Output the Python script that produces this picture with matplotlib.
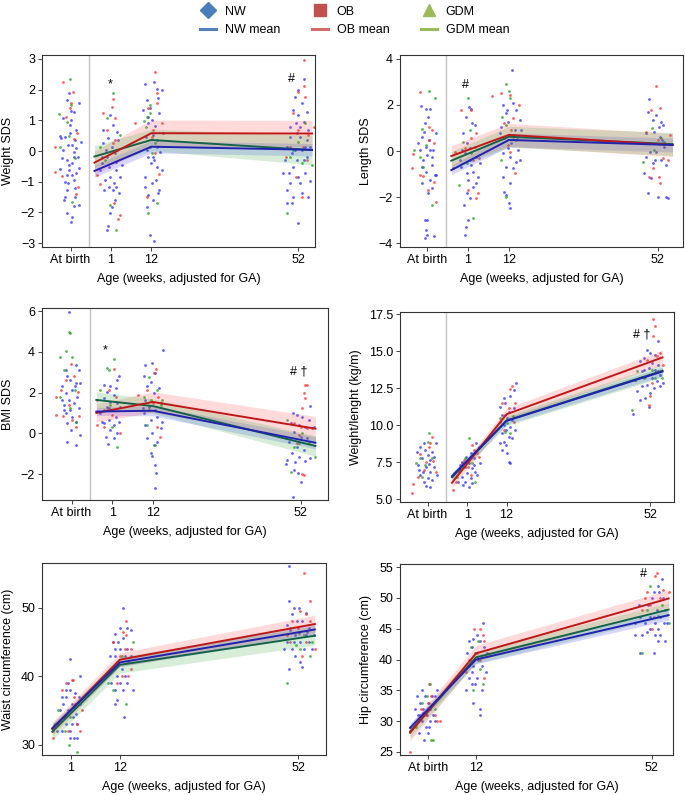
import numpy as np
import matplotlib
matplotlib.use("Agg")
import matplotlib.pyplot as plt
from matplotlib.lines import Line2D

plt.rcParams['font.family'] = ['Liberation Sans', 'DejaVu Sans']

# groups and colours
groups = ["NW", "OB", "GDM"]
dot_colors = ["#2a2aff", "#ff2a2a", "#1f9f1f"]
band_colors = ["#3a3aff", "#ff4a4a", "#3aa83a"]
fit_colors = ["#2222b0", "#c01818", "#15644a"]

# ---------------- Weight SDS ----------------
wt_nw = [(-10.5,1.88),(-10,-2.3),(-11,-2.03),(-9.6,-2.14),(-7.7,-1.76),(-8.8,-1.49),(-11,-1.27),(-11.5,-1.0),(-8.4,-0.73),
         (-10.5,-0.46),(-12.3,-0.24),(-9.2,-0.02),(-11.5,0.47),(-8.4,0.68),(-10.2,0.85),(-12,1.07),(-7.6,1.55),(-9.2,1.28),
         (-11,1.66),(-9.6,0.2),(-8.8,0.36),(-10.6,-1.05),(-8.8,-1.22),(-11.5,-1.49),(-9.6,-0.78),(-7.8,-0.57),(-11,-0.29),
         (-9.2,-0.18),(-12.5,0.41),(-7.2,0.3),(-10.2,0.58),(-12,0.03),(-8.4,0.09),(-10.5,-0.62),(-9.2,-0.95),(-11,-0.78),
         (-13,0.5),(-9.8,1.0),(-10.8,0.2),(-9.5,-0.4),(-12.8,-0.6),(-8,-0.2),(-10,1.3),(-11.8,-1.6),(-9,-1.8),
         (0.1,-2.45),(0.0,-2.58),(0.7,-2.03),(2.1,-1.6),(1.5,-1.27),(2.5,-1.16),(-0.6,-0.95),(0.7,-0.84),(2.5,-0.62),
         (-1.5,-0.4),(-0.2,-0.18),(2.1,-0.08),(1.2,0.14),(0.3,0.41),(-1.1,0.68),(1.6,0.85),(0.7,1.17),(3.0,0.36),
         (-2.0,-0.62),(3.5,-0.84),(-0.9,-1.27),(1.8,-1.05),(3.3,-1.38),(0.4,-0.51),(2.4,-0.35),(-0.4,0.03),(2.7,0.63),
         (1.3,-1.82),(-1.1,0.25),(0.5,-1.16),(-1.5,-0.18),(3.9,-0.46),
         (10.3,2.2),(12.7,2.24),(13.5,2.01),(14.8,2.0),(10.7,1.66),(14.2,1.23),(12.1,1.0),(11.2,0.9),(13.0,0.8),
         (10.5,0.47),(13.6,0.36),(11.6,0.14),(14.4,-0.02),(11.2,-0.18),(12.7,-0.29),(13.5,-0.51),(10.3,-0.84),
         (12.1,-1.05),(14.2,-1.27),(11.2,-1.43),(12.5,-1.6),(11.6,-2.74),(12.8,-2.92),(10.7,-1.82),(13.3,-0.95),
         (14.8,-0.62),(10.7,0.03),(12.4,0.52),(11.5,1.39),(13.9,1.72),(9.8,1.34),(11.8,-0.4),(13.9,-1.38),(10.3,-1.16),
         (12.5,-0.18),(15.1,0.58),(11.2,1.12),(13.5,0.14),
         (51.6,0.58),(52.5,0.79),(53.5,0.96),(52.1,1.17),(50.7,1.34),(54.4,1.28),(53.0,1.55),(51.2,1.77),(53.6,2.35),
         (52.1,1.99),(49.8,0.47),(48.9,0.14),(50.3,-0.08),(51.6,-0.29),(53.0,0.03),(54.4,0.36),(54.8,0.68),(50.7,-0.51),
         (49.4,-0.73),(52.1,-0.84),(53.9,-0.73),(52.5,-1.05),(49.8,-1.05),(50.7,-1.49),(54.8,-1.49),(48.9,-1.7),
         (50.3,-1.7),(52.1,-2.34),(48.5,-0.29),(53.5,-0.29),(51.2,0.03),(53.9,0.14),(48.0,-0.73),(55.3,-0.98),
         (52.5,0.47),(51.5,0.9),(49.8,0.79),(53.0,-1.38),(49.1,-1.27),(55.3,0.14),(54.4,-0.18)]
wt_ob = [(-14.3,-0.67),(-14.3,0.12),(-12.2,2.24),(-9.4,1.93),(-9.9,1.55),(-10.3,1.4),(-8.3,0.58),(-7.9,-1.16),(-8.5,-1.4),
         (-9.2,0.4),(-11.2,1.1),(-12.3,-0.8),
         (1.6,1.70),(1.2,1.45),(2.1,1.07),(-0.2,0.68),(2.1,0.36),(-1.1,1.23),(3.5,-2.09),(3.0,-2.23),(1.8,-1.7),
         (-2.9,-0.78),(-2.0,-1.09),(1.5,0.25),(2.7,0.03),
         (13.0,2.57),(13.5,1.88),(14.8,0.92),(7.5,0.92),(11.2,1.39),(12.1,0.47),(13.0,-0.08),(14.2,-0.75),(10.7,-1.49),
         (12.5,0.68),(13.6,1.55),
         (50.7,1.23),(52.1,1.93),(53.9,1.77),(53.5,2.12),(53.5,2.97),(48.7,-0.18),(51.5,-0.84),(53.0,-1.49),
         (54.4,-0.29),(56.2,0.79),(49.8,0.14),(52.1,0.68),(53.3,0.14),(54.8,0.52)]
wt_gdm = [(-10.2,2.34),(-13.2,1.2),(-9.9,1.5),(-12.8,0.14),(-10.5,0.5),(-9.6,-1.65),(-8.7,-0.24),(-11,0.95),
          (1.6,1.88),(2.3,-2.58),(-2.0,0.14),(-0.2,1.07),(0.7,-1.76),(3.5,0.52),(-0.6,-0.29),
          (11.5,1.5),(10.7,1.12),(10.0,0.99),(11.0,-2.03),(10.5,0.79),(12.1,-0.08),(13.5,-1.7),(11.5,1.23),(13.0,0.25),
          (49.1,-2.03),(55.7,-0.46),(49.8,-0.18),(53.0,-0.4),(53.9,0.9),(52.1,0.3),(50.7,0.03)]
wt_fit_x = [-3.5, 12, 55.8]
wt_mean = [[-0.65, 0.14, 0.04], [-0.38, 0.58, 0.57], [-0.18, 0.36, 0.03]]
wt_ci = [[0.2, 0.2, 0.2], [0.38, 0.43, 0.43], [0.35, 0.35, 0.48]]

# ---------------- Length SDS ----------------
lh_nw = [(-11.7,1.96),(-10.4,1.81),(-9.1,1.81),(-10.6,1.2),(-11.5,0.62),(-9.5,0.48),(-8.4,0.04),(-12.4,0.33),(-10,-0.17),
         (-11.1,-0.39),(-8.8,-0.61),(-10.4,-0.9),(-8,-1.04),(-11.5,-1.41),(-9.7,-1.84),(-8.6,-1.62),(-10.6,-3.0),(-10,-3.0),
         (-10.4,-3.43),(-10,-3.65),(-8.1,-3.68),(-10.6,-3.8),(-9.3,0.04),(-12,0.04),(-10.9,0.84),(-7.7,-1.04),(-9.1,-1.26),
         (-10.2,0.19),(-8.8,-0.25),(-11.3,-0.68),(-7.5,0.77),(-9.7,1.49),
         (0.1,-3.65),(0.4,-3.29),(1,-3.0),(-0.2,-2.35),(1.4,-2.06),(2.3,-1.55),(3.2,-1.41),(1,-1.26),(0.6,-0.97),
         (-0.8,-0.68),(1.9,-0.61),(3.2,-0.25),(0.1,-0.1),(1.4,0.12),(0.6,0.33),(-0.3,0.77),(2.1,1.2),(2.8,1.13),
         (0.4,1.49),(1.9,1.81),(1.3,1.93),(3.7,-1.12),(-1.2,-0.39),(2.3,-0.9),(0.7,-1.84),(-0.5,0.04),(1.6,-0.39),(4.1,-0.54),
         (12.8,3.52),(10.4,2.0),(13.1,2.07),(14,1.78),(11.3,1.64),(14.9,1.35),(11.7,1.28),(9.9,1.06),(13.5,0.91),
         (10.8,0.55),(12.6,0.33),(14.4,0.04),(10.4,-0.1),(12.2,-0.25),(13.8,-0.46),(11.3,-0.68),(13.1,-0.75),(10.4,-1.12),
         (12.2,-1.41),(10.8,-1.77),(11.1,-1.91),(12,-2.25),(12.2,-2.49),(14.9,-0.39),(9.5,0.77),(11.7,0.12),(14.1,0.62),
         (11.5,1.78),(15.3,0.91),
         (49.6,2.25),(49.3,1.71),(51.5,1.57),(50.7,1.35),(52.9,1.28),(53.5,1.13),(48.9,0.77),(51.1,0.84),(52.5,0.59),
         (49.7,0.33),(53.8,0.19),(51.5,-0.03),(48.9,-0.25),(52.9,-0.39),(50.7,-0.54),(48.4,-0.97),(50.2,-1.19),
         (54.1,-0.61),(49.3,-1.84),(52,-1.99),(54.1,-1.99),(54.7,-2.06),(51.3,-0.39),(53.2,0.48),(49.9,-0.03),(52.3,1.06)]
lh_ob = [(-11.8,2.58),(-13.9,-0.13),(-14,-0.72),(-12,-1.04),(-11.1,-1.09),(-9.5,1.06),(-8.8,0.91),(-8.2,0.33),(-7.5,-2.2),
         (-8.2,-1.33),(-9.6,0.48),(-9.8,-1.7),
         (-0.8,1.78),(1.7,1.78),(3.2,0.77),(1.9,0.55),(4,-0.32),(3.7,-1.84),(3.1,-2.06),(1,-1.7),(0.1,0.12),(-3,-0.75),
         (-2.6,-0.03),(2.3,-0.39),(2.8,0.19),
         (7.5,2.39),(9.9,2.51),(12.4,2.43),(14.7,2.0),(13.1,1.42),(12.6,0.91),(14,0.48),(12.2,-0.03),(13.5,-0.97),
         (10.8,1.2),(11.7,0.26),
         (51.5,2.83),(50.2,1.78),(52.6,1.86),(48.9,0.84),(52,0.48),(53.3,-0.32),(54.7,-0.39),(50.7,-0.75),(52.3,-1.12),
         (52.6,-1.41),(55.3,0.7),(49.7,-1.12)]
lh_gdm = [(-9.5,2.62),(-7.8,2.29),(-13.6,0.04),(-11.3,0.94),(-10.4,0.26),(-12,-0.25),(-8.8,-2.35),(-11.1,-0.68),
          (1,2.29),(2.3,-2.93),(-1.4,-1.48),(-0.3,0.41),(1.4,0.91),(0.6,-0.54),(1.9,-0.1),
          (11.3,2.91),(12,2.62),(12.4,2.29),(10.2,1.49),(11.1,1.13),(9.9,-0.39),(11.3,-1.99),(13.1,0.62),
          (50.5,1.01),(52.9,0.55),(48,-0.46),(51.1,0.04),(53.8,0.41)]
lh_fit_x = [-3.5, 12, 56.0]
lh_mean = [[-0.83, 0.48, 0.26], [-0.22, 0.70, 0.26], [-0.42, 0.62, 0.30]]
lh_ci = [[0.2, 0.3, 0.3], [0.45, 0.5, 0.5], [0.4, 0.45, 0.5]]

# ---------------- BMI SDS ----------------
bmi_nw = [(-10.7,5.93),(-11.6,3.11),(-8.9,3.36),(-8,3.11),(-11.2,2.79),(-10.3,2.62),(-8.7,2.46),(-12.5,2.3),(-9.8,2.13),
          (-11.4,1.97),(-8.5,1.8),(-10.7,1.64),(-12.1,1.39),(-9.4,1.48),(-10.4,1.15),(-8,1.23),(-11.6,0.98),(-9.8,0.82),
          (-8.7,0.57),(-11.2,0.49),(-7.8,-0.08),(-8.9,-0.57),(-11.2,-0.41),(-10.1,0.16),(-12.5,1.64),(-9.2,2.3),
          (-7.6,2.46),(-12.1,1.15),
          (2.8,2.79),(2.4,2.62),(0.5,2.3),(1.9,2.21),(-0.4,2.05),(1.5,1.89),(-1.3,1.72),(0.5,1.56),(2.4,1.48),
          (-0.5,1.31),(1,1.15),(-2.2,0.98),(1.9,0.82),(0.1,0.66),(-1.3,0.49),(1.5,0.41),(0.5,0.16),(2.4,0),
          (-0.8,-0.16),(-0.2,-0.52),(1.5,-0.25),(-1.7,0.57),(2.8,0.57),(0.1,1.23),(-1.1,2.38),(3.1,1.31),
          (14.7,4.1),(10,3.36),(11.8,3.44),(12.7,2.95),(9.6,2.79),(11.4,2.54),(10.5,2.3),(13.6,2.21),(12.3,1.97),
          (10,1.64),(14.1,1.48),(10.9,1.31),(12.7,1.15),(9.6,0.98),(13.2,0.82),(11.5,0.66),(10,0.41),(14.1,0.25),
          (11.8,0),(10.5,-0.25),(13.2,-0.41),(12.3,-0.57),(11.5,-0.98),(11.8,-1.1),(12.5,-1.56),(12.9,-1.93),
          (12.7,-2.66),(14.5,0.57),(9.4,1.23),
          (47.9,-1.48),(50,0.98),(51.1,0.9),(52.4,0.82),(54.2,0.66),(49.3,0.49),(51.5,0.41),(53.3,0.33),(55.1,0.25),
          (50.2,0.08),(52,-0.16),(53.8,-0.25),(48.8,-0.41),(51.1,-0.66),(52.9,-0.82),(49.7,-0.98),(51.5,-1.15),
          (54.6,-1.23),(48.4,-1.31),(50.6,-1.39),(53.3,-1.34),(50.2,-1.8),(51.2,-1.93),(52.1,-2.41),(50,-3.11),
          (54.4,1.34),(55.5,0.33),(48.4,-0.25)]
bmi_ob = [(-14.1,1.8),(-14.3,0.9),(-12.3,0.85),(-11.4,2.62),(-10.1,3.41),(-9.4,2.79),(-8,0.85),(-8.9,0.33),(-8.3,2.05),
          (-10.7,1.39),(-9.8,0.66),(-12.8,2.13),
          (-3.2,0.41),(-1.3,0.33),(1,0.9),(1.5,3.15),(1.9,1.8),(3.1,0),(0.1,2.13),(-0.4,1.15),(-3.1,1.64),
          (12.9,3.16),(12.4,2.95),(7.9,1.89),(10.5,2.13),(13.4,1.8),(12,1.48),(14,-0.16),(13.2,0.33),(10.9,1.15),
          (53.1,2.38),(53.6,2.38),(52.9,1.97),(53.3,1.72),(52.4,1.23),(53.8,0.25),(52,0.33),(51.1,-0.49),(52.4,-1.97),
          (52.9,-2.05),(50.2,0.49),(51.5,-0.08)]
bmi_gdm = [(-13.2,3.77),(-10.7,4.95),(-10.3,4.92),(-11.4,4.02),(-9.8,3.77),(-12.1,3.11),(-9.1,2.13),(-13,1.8),(-10.3,1.23),
           (-8.9,0.57),
           (1.5,3.64),(-2.2,2.13),(-0.5,3.2),(0.1,3.11),(2.2,-0.66),(1,0.33),(-1.3,1.15),(0.5,1.39),
           (10.9,2.75),(13.2,2.13),(9.6,1.8),(11.5,1.64),(14.1,1.39),(10.5,0.41),(12.7,-0.57),(14.5,1.64),
           (48.2,0.66),(49.3,-1.89),(55.8,-1.15),(50.2,-0.66),(51.5,-0.49),(54.2,-0.41),(52.4,0)]
bmi_fit_x = [-3.3, 12, 56.0]
bmi_mean = [[1.07, 1.11, -0.46], [1.0, 1.54, 0.23], [1.64, 1.34, -0.62]]
bmi_ci = [[0.2, 0.25, 0.3], [0.45, 0.5, 0.6], [0.4, 0.35, 0.5]]

# ---------------- Weight/length ----------------
wl_nw = [(-12.9,8.2),(-12,8.54),(-10.6,8.32),(-10,7.98),(-8.7,8.2),(-7.8,8.77),(-11.5,7.75),(-9.2,7.64),(-12.8,7.3),
         (-10.5,7.19),(-8.3,7.19),(-11.2,6.85),(-9.4,6.85),(-12,6.63),(-10,6.4),(-8.7,6.29),(-10.9,6.17),(-10.4,5.88),
         (-9.2,5.84),(-7.5,6.63),(-12.5,6.96),(-8.3,7.87),(-11.1,8.77),(-9.7,7.37),
         (3.6,8.77),(4.2,8.54),(2.1,8.09),(0.8,7.87),(2.9,7.75),(-0.4,7.53),(1.5,7.42),(0.3,7.19),(2.4,7.08),
         (-1,6.96),(1,6.74),(3.3,6.85),(-0.4,6.51),(2.1,6.4),(0.5,6.17),(2.4,6.06),(-0.1,5.95),(1.5,5.84),
         (-1.6,6.17),(4.5,7.42),(2.9,7.3),(-0.9,7.3),(3.8,6.63),
         (14.7,12.83),(14,12.38),(11.2,11.82),(13.1,11.93),(11.7,11.48),(10.3,11.25),(14,11.14),(12.6,10.91),
         (10.7,10.69),(12.1,10.46),(13.5,10.35),(10.1,10.24),(11.4,10.01),(13.1,9.9),(11.9,9.67),(10.7,9.45),
         (12.6,9.22),(11.2,8.88),(11.9,8.66),(10.7,8.32),(12.1,8.09),(12.6,7.53),(12.9,7.42),(10.3,8.77),(13.5,9.11),
         (14.5,9.67),
         (54.3,15.65),(51.1,15.05),(52,14.86),(53.4,14.75),(50.2,14.53),(49.2,14.3),(52.5,14.19),(54.3,14.07),
         (51.6,13.85),(53.4,13.74),(49.7,13.62),(54.8,13.4),(50.7,13.28),(52.5,13.17),(47.8,13.06),(53.9,12.95),
         (51.1,12.72),(49.7,12.61),(53,12.49),(54.8,12.61),(48.3,12.27),(52,12.16),(50.7,11.82),(51.6,11.25),
         (49.2,11.7),(47.4,10.73),(55.7,12.83),(50.2,13.74)]
wl_ob = [(-14,6.0),(-14.3,5.38),(-12,8.05),(-9.2,8.81),(-9.7,8.54),(-8.5,7.6),(-7.8,6.85),(-11.1,6.96),(-8.7,9.22),
         (-10.5,7.53),(-12.7,6.51),
         (-2.9,5.6),(-2.2,6.17),(2.4,8.66),(2.9,8.32),(3.8,8.09),(0.1,7.64),(1.2,7.19),(-1.3,6.85),(2.1,6.63),
         (4.2,7.87),(-0.4,7.42),
         (13.5,12.61),(13.1,12.43),(10.7,11.48),(12.6,11.14),(14.5,11.48),(11.7,10.69),(14,10.24),(11.2,9.67),
         (52.9,17.19),(53.4,16.72),(52.8,16.04),(53.9,14.64),(51.1,14.41),(54.8,14.86),(49.7,13.28),(52.5,12.83),
         (52,11.93),(51.6,11.37),(55.7,14.07),(54.3,13.62)]
wl_gdm = [(-9.7,9.45),(-12,7.75),(-10.6,7.3),(-13.1,7.42),(-8.7,7.75),(-11.5,6.51),(-9.8,8.88),
          (1.5,9.15),(-1.8,6.51),(2.4,7.42),(0.5,7.75),(3.3,6.17),(-0.9,6.96),
          (10.3,10.46),(11.7,9.56),(13.1,9.45),(12.1,10.12),(13.9,10.58),
          (46.9,11.03),(47.8,13.06),(50.2,13.17),(53.4,13.17),(55.3,13.17),(52.5,13.74),(48.5,13.62)]
wl_fit_x = [-3.2, 12, 55.5]
wl_mean = [[6.55, 10.28, 13.62], [6.1, 10.73, 14.57], [6.47, 10.3, 13.67]]
wl_ci = [[0.25, 0.25, 0.3], [0.35, 0.4, 0.5], [0.3, 0.35, 0.45]]

# ---------------- Waist circumference ----------------
ws_nw = [(0.8,42.5),(3,40),(-1.1,37),(0,38),(0.9,38),(1.9,37.5),(-0.7,36),(1.2,36),(2.7,37),(-1.5,35),(0.4,35),
         (2.1,34.5),(-0.4,34),(1.5,34),(-1.9,33),(0,33),(1.2,33),(-1.1,32),(0.9,32),(1.7,31),(2.4,31),(0.8,31),
         (-0.7,34),(3,36),(0,37),(-2.2,32),(2.3,33),(0.4,39),
         (12.8,50),(12,47),(10.9,46.2),(13.5,47),(14.4,46.8),(10.5,45),(11.6,45),(12.8,45.5),(10.9,44),(12,44),
         (13.5,44),(9.8,43),(10.9,43),(13.2,43),(11.6,42),(13.9,42),(10.5,41),(12.4,41),(11.3,40),(13.2,40),
         (10.1,39),(12,39),(13.5,39),(10.9,38),(12.8,38),(14.9,38),(11.3,36.5),(10.9,36),(12.9,34),(14.6,43),
         (50.1,56),(50.1,51),(51.2,50),(52.2,50),(53.7,49.2),(50.7,49),(51.8,48),(53,48),(54.5,47),(50.3,46.7),
         (51.4,46),(53.7,46),(55.5,46),(49.5,45),(51,45),(52.5,45),(54.5,45),(48.8,44),(50.7,44),(53.3,44),
         (55.2,44),(51.4,43),(52.5,42),(52.8,41.4),(50.1,41),(54.1,46.5),(52.2,46.3),(49.5,47.5)]
ws_ob = [(-3.1,31),(-3.1,32),(-1.1,38),(1.2,39.5),(1.4,39.5),(1.7,37),(3.4,35),(3,32),(2.3,33),(0.4,32),(-0.1,39),
         (1.9,36),
         (13.4,48),(12.8,46.5),(13.4,46),(10.4,45),(13.2,44),(14.6,44),(12,43),(14.6,41),(12.4,40),(13.9,40),(11.3,39),
         (53.3,55),(52.5,49.5),(53.7,49),(54.8,51),(50.7,48),(49.5,46),(50.3,45),(52.8,43),(55.9,44),(54.8,48),
         (52,47),(53.8,45)]
ws_gdm = [(-2.6,33),(0.8,34),(0.6,30),(2.3,29),(-1.9,35),(1.9,35.5),(-0.4,32),
          (9.4,39),(10.5,38),(13.4,36),(14.9,45),(12.4,43),(11.4,42),
          (49.5,39),(54.8,43),(52.5,44),(51.6,44.5),(55.2,45),(53.3,46),(50.3,47)]
ws_fit_x = [-3.2, 12, 55.8]
ws_mean = [[32.4, 42.0, 46.8], [32.3, 42.4, 47.6], [31.9, 41.65, 45.9]]
ws_ci = [[0.6, 0.6, 0.8], [1.0, 1.0, 1.3], [1.2, 1.2, 1.4]]

# ---------------- Hip circumference ----------------
hp_nw = [(-0.4,35),(3.1,35),(-1.5,34),(0.4,34),(2.7,34),(-0.7,33),(1,33),(-1.9,32),(0,32),(1.5,32),(-1.3,31),(0.8,31),
         (2.3,31),(-0.4,30),(1.5,30),(2.7,30),(0.6,29),(1.2,29),(-0.9,28),(1,28),(0.2,27),(1.9,34),(-0.7,31),(-0.1,31.3),
         (13.5,46),(12.2,44),(10.3,43),(11.4,43.4),(12.8,43),(11,42),(13.7,42),(11.8,41),(14.4,41),(10.6,40),(12.5,40),
         (11.4,39),(13.3,39),(11,38),(12.3,37),(10.3,37),(13.3,35),(11,36),(11.8,36),(9.7,35),(11.2,33),(12.9,32),
         (12.8,31),(14.3,38),(9.9,41),
         (54.3,53),(53.3,52),(52.4,51),(53.7,51),(52,50),(54.6,50),(49.1,48.8),(51.2,48.8),(53.1,48),(55,48),
         (49.3,46.9),(51.6,46.9),(53.9,46.9),(48.2,46),(50.5,46),(52.8,46),(54.7,46),(51.6,45),(53.5,45),(48.2,44),
         (49.7,44),(52.8,44),(53.9,44),(50.8,44.5),(53.5,43),(55,43),(49.3,41),(52.4,41),(55.4,46)]
hp_ob = [(-3,25),(-3,29),(1.7,34),(1.4,36),(1.2,33),(2.7,31),(3.1,30),(3.7,30),(-0.5,32),(0.7,31),
         (11.6,45),(12.9,45),(13.5,44),(13.8,43),(12.2,41),(10.3,40),(9.7,38),(13.8,37),(12.9,40),
         (53.1,54),(52.8,53.5),(50.8,51),(50.5,50),(51.6,48.8),(49.7,48),(53.9,50),(55.8,51),(52,45),(52.4,46.9),
         (54.5,51.2)]
hp_gdm = [(-1.7,29),(1.5,36),(1.7,27),(2.3,27),(-0.4,33),(0.8,34),(2.7,32),
          (12.5,43),(10.8,42),(12.8,38.5),(13.5,36),(11.4,35),(10.3,39),
          (51.6,52),(49.7,41),(55.8,46),(53.5,47),(50.8,48),(54.3,48.8)]
hp_fit_x = [-3.0, 12, 55.8]
hp_mean = [[28.9, 40.0, 47.2], [28.1, 41.0, 49.9], [28.3, 40.35, 48.1]]
hp_ci = [[0.7, 0.7, 0.8], [1.3, 1.3, 1.4], [1.0, 1.0, 1.1]]

xlabel = "Age (weeks, adjusted for GA)"


def draw(ax, pts_list, fit_x, means, cis, xlim, ylim, yticks, xticks, xticklabels, ylabel, birth_line, notes):
    for pts, c in zip(pts_list, dot_colors):
        xs, ys = zip(*pts)
        ax.scatter(xs, ys, s=4, color=c, alpha=0.75, linewidths=0, zorder=2)
    for m, ci, c in zip(means, cis, band_colors):
        m = np.array(m)
        ci = np.array(ci)
        ax.fill_between(fit_x, m - ci, m + ci, color=c, alpha=0.2, lw=0, zorder=3)
    for i in [2, 1, 0]:
        ax.plot(fit_x, means[i], color=fit_colors[i], lw=1.4, zorder=4)
    if birth_line:
        ax.axvline(-5, color="#c4c4c4", lw=1.0, zorder=1)
    for (x, y, s) in notes:
        ax.text(x, y, s, ha="center", va="center", fontsize=9, zorder=5)
    ax.set_xlim(xlim)
    ax.set_ylim(ylim)
    ax.set_yticks(yticks)
    ax.set_xticks(xticks)
    ax.set_xticklabels(xticklabels)
    ax.set_ylabel(ylabel, fontsize=9, labelpad=5)
    ax.set_xlabel(xlabel, fontsize=9, labelpad=5)
    ax.tick_params(labelsize=9, length=3, width=0.7, color="#444444", pad=2)
    for sp in ax.spines.values():
        sp.set_linewidth(0.8)
        sp.set_color("#333333")


fig = plt.figure(figsize=(6.85, 7.95), dpi=100)
W, H = 685.0, 795.0


def add_ax(left, right, top, bottom):
    return fig.add_axes([left / W, 1 - bottom / H, (right - left) / W, (bottom - top) / H])


birth_ticks = [-10, 1, 12, 52]
birth_labels = ["At birth", "1", "12", "52"]

ax1 = add_ax(42, 315, 55, 247)
draw(ax1, [wt_nw, wt_ob, wt_gdm], wt_fit_x, wt_mean, wt_ci, (-17.8, 56.6), (-3.13, 3.13),
     [-3, -2, -1, 0, 1, 2, 3], birth_ticks, birth_labels, "Weight SDS", True,
     [(0.7, 2.17, "*"), (50.1, 2.34, "#")])

ax2 = add_ax(400, 683, 55, 247)
draw(ax2, [lh_nw, lh_ob, lh_gdm], lh_fit_x, lh_mean, lh_ci, (-17.3, 58.8), (-4.17, 4.17),
     [-4, -2, 0, 2, 4], birth_ticks, birth_labels, "Length SDS", True,
     [(0.4, 2.87, "#")])

ax3 = add_ax(42, 328, 308, 500)
draw(ax3, [bmi_nw, bmi_ob, bmi_gdm], bmi_fit_x, bmi_mean, bmi_ci, (-18, 59.4), (-3.27, 6.15),
     [-2, 0, 2, 4, 6], birth_ticks, birth_labels, "BMI SDS", True,
     [(-0.8, 4.05, "*"), (51.6, 3.03, "# \u2020")])

ax4 = add_ax(400, 674, 312, 502)
draw(ax4, [wl_nw, wl_ob, wl_gdm], wl_fit_x, wl_mean, wl_ci, (-17.7, 58.7), (4.8, 17.64),
     [5.0, 7.5, 10.0, 12.5, 15.0, 17.5], birth_ticks, birth_labels, "Weight/lenght (kg/m)", True,
     [(49.8, 16.1, "# \u2020")])

ax5 = add_ax(42, 326, 563, 755)
draw(ax5, [ws_nw, ws_ob, ws_gdm], ws_fit_x, ws_mean, ws_ci, (-5.5, 58.3), (28.5, 56.5),
     [30, 40, 50], [1, 12, 52], ["1", "12", "52"], "Waist circumference (cm)", False, [])

ax6 = add_ax(400, 673, 564, 755)
draw(ax6, [hp_nw, hp_ob, hp_gdm], hp_fit_x, hp_mean, hp_ci, (-5.3, 56.8), (24.5, 55.5),
     [25, 30, 35, 40, 45, 50, 55], [1, 12, 52], ["At birth", "12", "52"], "Hip circumference (cm)", False,
     [(50.1, 53.8, "#")])

# legend at the top
handles = [
    Line2D([], [], marker="D", color="#4a7ebb", ls="none", ms=8),
    Line2D([], [], color="#4f81bd", lw=2.2),
    Line2D([], [], marker="s", color="#c0504d", ls="none", ms=8),
    Line2D([], [], color="#d46a6a", lw=2.2),
    Line2D([], [], marker="^", color="#9bbb59", ls="none", ms=9),
    Line2D([], [], color="#9bbb59", lw=2.2),
]
labels = ["NW", "NW mean", "OB", "OB mean", "GDM", "GDM mean"]
fig.legend(handles, labels, ncol=3, loc="upper left", bbox_to_anchor=(195 / W, 0.999), frameon=False,
           fontsize=9, handlelength=1.3, handletextpad=0.7, columnspacing=2.5, labelspacing=0.5,
           borderaxespad=0)

fig.savefig("out.png", dpi=100)
